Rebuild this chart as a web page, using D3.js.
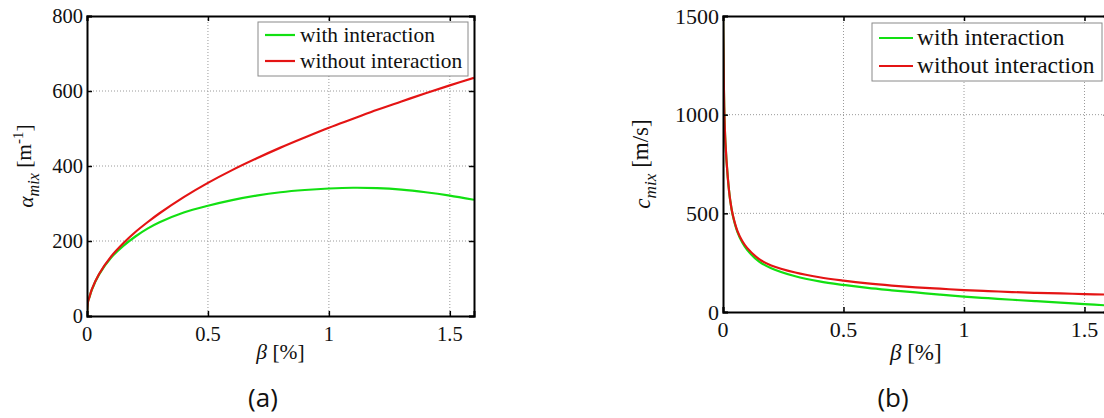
<!DOCTYPE html>
<html>
<head>
<meta charset="utf-8">
<script src="https://cdn.jsdelivr.net/npm/d3@7"></script>
<style>
  html, body { margin: 0; padding: 0; background: #fff; }
  svg { display: block; }
</style>
</head>
<body>
<svg id="chart" width="1104" height="418"></svg>
<script>
// Gas volume fraction β [%] sampled for both panels
const betaA = [0, 0.004, 0.01, 0.02, 0.05, 0.1, 0.15, 0.2, 0.25, 0.3, 0.4, 0.5, 0.6, 0.7, 0.8, 0.9, 1.0, 1.1, 1.2, 1.3, 1.4, 1.5, 1.6];
// Attenuation α_mix [1/m]
const alphaWith    = [0, 38, 50, 70, 111, 156, 187, 212, 233, 250, 276, 294, 309, 321, 330, 336, 340, 342, 341, 337, 330, 321, 310];
const alphaWithout = [0, 38, 50, 71, 112, 159, 194, 224, 250, 274, 317, 355, 389, 420, 449, 476, 502, 526, 550, 572, 594, 615, 635];

const betaB = [0, 0.002, 0.005, 0.01, 0.02, 0.03, 0.04, 0.06, 0.08, 0.1, 0.15, 0.2, 0.3, 0.4, 0.5, 0.6, 0.7, 0.8, 0.9, 1.0, 1.1, 1.2, 1.3, 1.4, 1.5, 1.6];
// Sound speed c_mix [m/s]
const cWith    = [1500, 1300, 1040, 860, 680, 565, 493, 405, 352, 315, 255, 222, 181, 155, 137, 122, 110, 99, 88, 78, 70, 62, 55, 48, 40, 33];
const cWithout = [1500, 1300, 1040, 860, 680, 565, 495, 410, 360, 325, 268, 236, 200, 176, 159, 145, 134, 125, 118, 111, 106, 101, 97, 94, 91, 88];

const xTicks = [0, 0.5, 1, 1.5];
const yTicksA = [0, 200, 400, 600, 800];
const yTicksB = [0, 500, 1000, 1500];
const seriesNames = ["with interaction", "without interaction"];
const seriesColors = ["#12e012", "#e41414"];

const SERIF = "Liberation Serif";
const SANS = "Open Sans";

const svg = d3.select("#chart");

function drawPanel(cfg) {
  const x = d3.scaleLinear().domain([0, 1.6]).range([cfg.left, cfg.right]);
  const y = d3.scaleLinear().domain(cfg.yDomain).range([cfg.bottom, cfg.top]);
  const g = svg.append("g");

  // dotted grid
  g.append("g").selectAll("line").data(cfg.xTicks.filter(d => d > 0)).join("line")
    .attr("x1", d => x(d)).attr("x2", d => x(d))
    .attr("y1", cfg.top).attr("y2", cfg.bottom)
    .attr("stroke", "#9a9a9a").attr("stroke-width", 1).attr("stroke-dasharray", "1,2");
  g.append("g").selectAll("line").data(cfg.yTicks.filter(d => d > cfg.yDomain[0] && d < cfg.yDomain[1])).join("line")
    .attr("x1", cfg.left).attr("x2", cfg.right)
    .attr("y1", d => y(d)).attr("y2", d => y(d))
    .attr("stroke", "#9a9a9a").attr("stroke-width", 1).attr("stroke-dasharray", "1,2");

  // curves
  const clipId = "clip-" + cfg.id;
  svg.append("clipPath").attr("id", clipId).append("rect")
    .attr("x", cfg.left).attr("y", cfg.top - 2)
    .attr("width", cfg.right - cfg.left).attr("height", cfg.bottom - cfg.top + 2);
  const line = d3.line().x(d => x(d[0])).y(d => y(d[1])).curve(d3.curveCatmullRom.alpha(0.5));
  cfg.series.forEach((vals, i) => {
    g.append("path")
      .datum(cfg.xs.map((b, k) => [b, vals[k]]))
      .attr("d", line)
      .attr("clip-path", `url(#${clipId})`)
      .attr("fill", "none")
      .attr("stroke", seriesColors[i])
      .attr("stroke-width", 2.2)
      .attr("stroke-linejoin", "round");
  });

  // axes with inward ticks on all four sides
  const axB = d3.axisBottom(x).tickValues(cfg.xTicks).tickSize(-5).tickFormat("");
  const axT = d3.axisTop(x).tickValues(cfg.xTicks).tickSize(-5).tickFormat("");
  const axL = d3.axisLeft(y).tickValues(cfg.yTicks).tickSize(-5).tickFormat("");
  const axR = d3.axisRight(y).tickValues(cfg.yTicks).tickSize(-5).tickFormat("");
  [[axB, `translate(0,${cfg.bottom})`], [axT, `translate(0,${cfg.top})`],
   [axL, `translate(${cfg.left},0)`], [axR, `translate(${cfg.right},0)`]].forEach(([ax, tr]) => {
    const a = g.append("g").attr("transform", tr).call(ax);
    a.select(".domain").attr("stroke", "#000").attr("stroke-width", 2);
    a.selectAll(".tick line").attr("stroke", "#000").attr("stroke-width", 1.5);
  });

  // tick labels
  g.append("g").selectAll("text").data(cfg.xTicks).join("text")
    .attr("font-family", SERIF).attr("fill", "#111")
    .attr("x", d => x(d)).attr("y", cfg.bottom + cfg.xTickDy)
    .attr("text-anchor", "middle").attr("font-size", cfg.tickSize)
    .text(d => d3.format("")(d));
  g.append("g").selectAll("text").data(cfg.yTicks).join("text")
    .attr("font-family", SERIF).attr("fill", "#111")
    .attr("x", cfg.left - 4).attr("y", d => y(d)).attr("dy", "0.35em")
    .attr("text-anchor", "end").attr("font-size", cfg.tickSize)
    .text(d => d);

  // x label: β [%]
  const xl = g.append("text").attr("font-family", SERIF).attr("fill", "#111")
    .attr("x", (cfg.left + cfg.right) / 2).attr("y", cfg.xLabelY)
    .attr("text-anchor", "middle").attr("font-size", cfg.labelSize);
  xl.append("tspan").attr("font-style", "italic").text("β");
  xl.append("tspan").text(" [%]");

  // y label
  const yl = g.append("text").attr("font-family", SERIF).attr("fill", "#111")
    .attr("transform", `translate(${cfg.yLabelX},${(cfg.top + cfg.bottom) / 2}) rotate(-90)`)
    .attr("text-anchor", "middle").attr("font-size", cfg.labelSize);
  cfg.yLabel(yl, cfg.labelSize);

  // legend
  const lg = g.append("g");
  lg.append("rect")
    .attr("x", cfg.legend.x).attr("y", cfg.legend.y)
    .attr("width", cfg.legend.w).attr("height", cfg.legend.h)
    .attr("fill", "#fff").attr("stroke", "#8a8a8a").attr("stroke-width", 1);
  seriesNames.forEach((name, i) => {
    const ry = cfg.legend.y + cfg.legend.row0 + i * cfg.legend.rowGap;
    lg.append("line")
      .attr("x1", cfg.legend.x + cfg.legend.lineX0).attr("x2", cfg.legend.x + cfg.legend.lineX1)
      .attr("y1", ry).attr("y2", ry)
      .attr("stroke", seriesColors[i]).attr("stroke-width", 2.2);
    lg.append("text").attr("font-family", SERIF).attr("fill", "#111")
      .attr("x", cfg.legend.x + cfg.legend.textX).attr("y", ry).attr("dy", "0.32em")
      .attr("font-size", cfg.legend.size).text(name);
  });

  // caption
  svg.append("text").attr("font-family", SANS).attr("fill", "#111")
    .attr("x", cfg.captionX).attr("y", 407)
    .attr("text-anchor", "middle").attr("font-size", 26)
    .text(cfg.caption);
}

drawPanel({
  id: "a", left: 87, right: 474, top: 16, bottom: 316,
  yDomain: [0, 800], xTicks, yTicks: yTicksA, xs: betaA,
  series: [alphaWith, alphaWithout],
  tickSize: 20.5, labelSize: 21.5, xTickDy: 25, xLabelY: 359, yLabelX: 33,
  yLabel: (t, s) => {
    t.append("tspan").attr("font-style", "italic").text("α");
    t.append("tspan").attr("font-style", "italic").attr("font-size", s * 0.75).attr("dy", "0.35em").text("mix");
    t.append("tspan").attr("dy", "-0.35em").text(" [m");
    t.append("tspan").attr("font-size", s * 0.7).attr("dy", "-0.55em").text("-1");
    t.append("tspan").attr("dy", "0.4em").text("]");
  },
  legend: { x: 258, y: 22, w: 210, h: 54, row0: 13, rowGap: 26, lineX0: 7, lineX1: 37, textX: 42, size: 21.4 },
  caption: "(a)", captionX: 263
});

drawPanel({
  id: "b", left: 723, right: 1108.6, top: 16, bottom: 312,
  yDomain: [0, 1500], xTicks, yTicks: yTicksB, xs: betaB,
  series: [cWith, cWithout],
  tickSize: 22, labelSize: 23, xTickDy: 25, xLabelY: 360, yLabelX: 650,
  yLabel: (t, s) => {
    t.append("tspan").attr("font-style", "italic").text("c");
    t.append("tspan").attr("font-style", "italic").attr("font-size", s * 0.75).attr("dy", "0.35em").text("mix");
    t.append("tspan").attr("dy", "-0.35em").text(" [m/s]");
  },
  legend: { x: 872, y: 23, w: 230, h: 58, row0: 15, rowGap: 28, lineX0: 7, lineX1: 41, textX: 45, size: 23.4 },
  caption: "(b)", captionX: 893
});
</script>
</body>
</html>
